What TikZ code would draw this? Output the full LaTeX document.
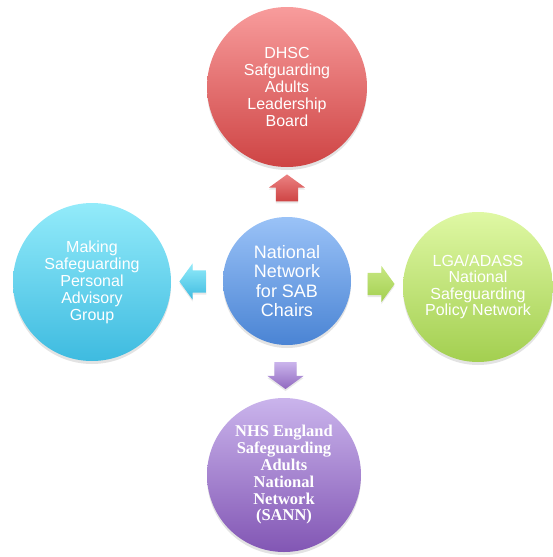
\documentclass[tikz,border=0pt]{standalone}
\usepackage{fontspec}
\setmainfont{Liberation Sans}
\newfontfamily\serifbold{Liberation Serif}
\usetikzlibrary{shapes.arrows,shadows,calc}

\definecolor{redtop}{HTML}{F89C9C}
\definecolor{redbot}{HTML}{CE4444}
\definecolor{bluetop}{HTML}{9AC2F7}
\definecolor{bluebot}{HTML}{4A84D4}
\definecolor{cyantop}{HTML}{93EBFA}
\definecolor{cyanbot}{HTML}{3EBBE0}
\definecolor{greentop}{HTML}{DFF8A4}
\definecolor{greenbot}{HTML}{A3CF50}
\definecolor{purptop}{HTML}{CAB4EC}
\definecolor{purpbot}{HTML}{8256B4}

\tikzset{
  ball/.style={circle,draw=none,text=white,align=center,
    drop shadow={opacity=0.22,shadow xshift=0pt,shadow yshift=-3pt}},
  blockarrow/.style={single arrow,draw=none,minimum height=27pt,
    inner xsep=0pt,inner ysep=11pt,single arrow head extend=7pt,
    single arrow tip angle=108,
    drop shadow={opacity=0.18,shadow xshift=0pt,shadow yshift=-2pt}},
  uparrow/.style={blockarrow,inner xsep=11pt,inner ysep=0pt}
}

\begin{document}
\begin{tikzpicture}[x=1pt,y=-1pt]
  \useasboundingbox (0,0) rectangle (553,557);
  \node[ball,minimum size=128pt,top color=bluetop,bottom color=bluebot,
        font=\fontsize{18}{19.5}\selectfont] (hub) at (287,281)
        {National\\Network\\for SAB\\Chairs};
  \node[ball,minimum size=160pt,top color=redtop,bottom color=redbot,
        font=\fontsize{16}{17.2}\selectfont] (dhsc) at (287,87)
        {DHSC\\Safguarding\\Adults\\Leadership\\Board};
  \node[ball,minimum size=158pt,top color=cyantop,bottom color=cyanbot,
        font=\fontsize{16}{17}\selectfont] (msp) at (92,282)
        {Making\\Safeguarding\\Personal\\Advisory\\Group};
  \node[ball,minimum size=150pt,top color=greentop,bottom color=greenbot,
        font=\fontsize{16}{16.5}\selectfont] (lga) at (478,287)
        {LGA/ADASS\\National\\Safeguarding\\Policy Network};
  \node[ball,minimum size=154pt,top color=purptop,bottom color=purpbot,
        font=\serifbold\bfseries\fontsize{16.5}{16.8}\selectfont] (sann) at (284,475)
        {NHS England\\Safeguarding\\Adults\\National\\Network\\(SANN)};

  \node[uparrow,shape border rotate=90,top color=redtop!70!redbot,bottom color=redbot]
    at ($(hub.north)!0.5!(dhsc.south)$) {};
  \node[blockarrow,shape border rotate=180,top color=cyantop,bottom color=cyanbot]
    at ($(hub.west)!0.5!(msp.east)$) {};
  \node[blockarrow,shape border rotate=0,top color=greentop!60!greenbot,bottom color=greenbot]
    at ($(hub.east)!0.5!(lga.west)$) {};
  \node[uparrow,shape border rotate=270,top color=purptop,bottom color=purpbot!80!purptop]
    at ($(hub.south)!0.5!(sann.north)$) {};
\end{tikzpicture}
\end{document}
